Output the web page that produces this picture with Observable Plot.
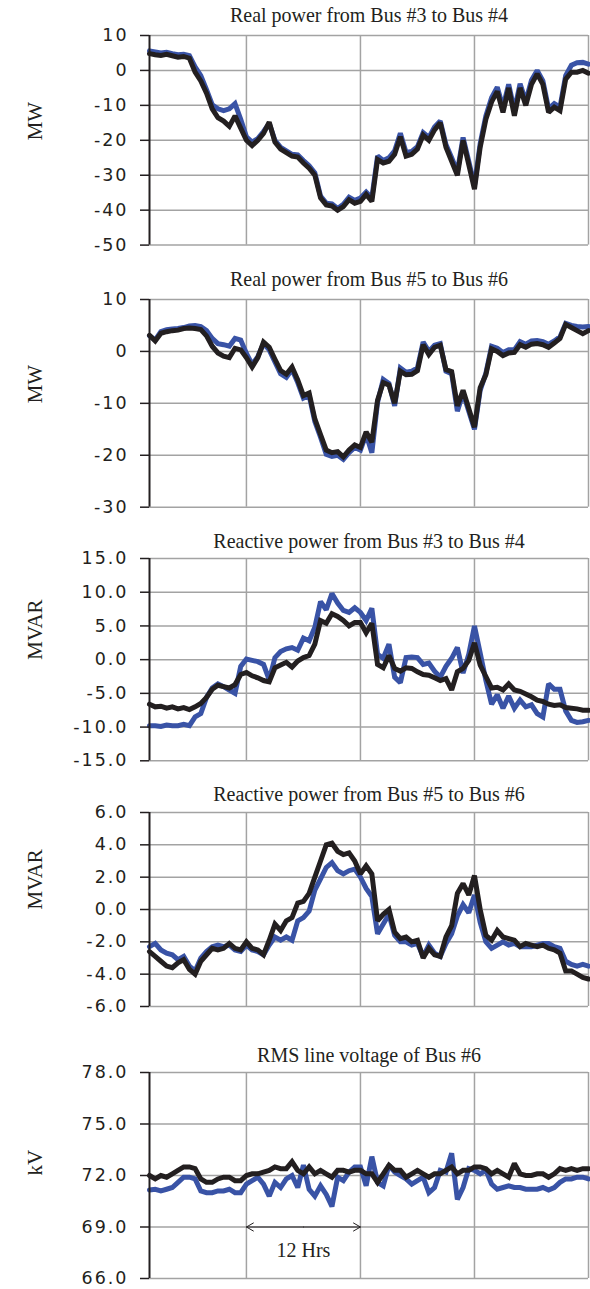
<!DOCTYPE html>
<html><head><meta charset="utf-8">
<script src="https://cdn.jsdelivr.net/npm/d3@7"></script>
<script src="https://cdn.jsdelivr.net/npm/@observablehq/plot@0.6"></script>
<style>
body{margin:0;background:#fff;}
#wrap{position:relative;width:590px;height:1289px;overflow:hidden;}
#wrap svg{position:absolute;left:0;}
g[aria-label="y-axis tick label"] text{font-family:"DejaVu Sans";letter-spacing:2px;}
</style></head><body><div id="wrap"></div>
<script>
// time axis (hours), sampled every 0.6 h
const hours = Array.from({length: 78}, (_, i) => +(1.8 + 0.6 * i).toFixed(1));
const gridHours = [12, 24, 36, 48];

const titles = [
  "Real power from Bus #3 to Bus #4",
  "Real power from Bus #5 to Bus #6",
  "Reactive power from Bus #3 to Bus #4",
  "Reactive power from Bus #5 to Bus #6",
  "RMS line voltage of Bus #6"
];
const yLabels = ["MW", "MW", "MVAR", "MVAR", "kV"];

const p1Ticks = [-50, -40, -30, -20, -10, 0, 10];
const p2Ticks = [-30, -20, -10, 0, 10];
const p3Ticks = [-15, -10, -5, 0, 5, 10, 15];
const p4Ticks = [-6, -4, -2, 0, 2, 4, 6];
const p5Ticks = [66, 69, 72, 75, 78];

const p1Black = [4.8,4.5,4.3,4.6,4.2,3.8,4.0,3.5,-0.5,-3.0,
 -6.5,-11,-13.5,-14.5,-16,-13,-16.5,-20,-21.5,-20,
 -18,-14.8,-20.5,-22.5,-23.5,-24.5,-24.8,-26.5,-28,-30,
 -36.5,-38.5,-38.8,-40,-39,-37,-38,-37.5,-35.5,-37.5,
 -25.5,-26.5,-26,-24,-19,-24.5,-24,-22.5,-18.5,-20,
 -17,-15,-22,-26,-30,-20,-27,-34,-22,-14,
 -9,-6,-12,-5,-13,-5,-10,-4,-1,-4,
 -12,-10.5,-11.5,-2.5,-0.5,-0.5,0,-0.8];
const p1Blue = [5.6,5.3,5.0,5.2,4.8,4.5,4.6,4.2,1.0,-1.5,
 -5.5,-9.8,-11,-11.5,-11,-9.5,-14,-19,-20.5,-19.5,
 -17.5,-15.2,-20,-22,-23,-24,-24.2,-25.8,-27.3,-29.3,
 -36,-38,-38.2,-39.5,-38.3,-36.3,-37.2,-36.5,-34.8,-36.5,
 -24.5,-25.8,-25,-23,-18,-23.5,-23.2,-21.8,-17.8,-19.2,
 -16.2,-14.5,-21.2,-25,-29,-19.2,-26,-33,-21,-13,
 -7.8,-4.8,-10.5,-4,-11.5,-3.8,-8.8,-2.8,0,-3,
 -11,-9.5,-10.5,-1.5,1.5,2.2,2.3,1.8];

const p2Black = [3.1,2.0,3.5,3.8,4.0,4.1,4.4,4.5,4.4,4.2,
 3.0,1.0,-0.3,-0.9,-1.2,0.6,0.3,-1.2,-3.0,-1.2,
 1.8,0.8,-1.5,-3.7,-4.4,-3.0,-5.5,-8.5,-8.0,-13,
 -16,-19,-19.5,-19.3,-20.3,-19,-18,-18.5,-15.5,-17.5,
 -9.4,-6,-6.5,-10,-3.8,-4.5,-4.4,-3.7,1.3,-0.6,
 0.8,1.2,-3.5,-3.9,-10.5,-7.5,-11,-14.6,-7.0,-4.5,
 0.5,0,-0.8,-0.3,-0.2,1.3,0.8,1.4,1.5,1.3,
 0.8,1.6,2.5,5.2,4.6,4.0,3.4,4.0];
const p2Blue = [3.0,2.2,3.8,4.2,4.3,4.4,4.6,4.9,5.0,4.8,
 4.0,2.5,1.5,1.3,1.0,2.5,2.2,-0.4,-2.5,-1.0,
 1.5,0.3,-2.0,-4.3,-5.0,-3.5,-6.0,-9.0,-8.5,-13.5,
 -16.5,-19.8,-20.2,-20,-20.8,-19.5,-18.5,-19,-16,-19.5,
 -9.8,-5.4,-6.2,-10.5,-3.2,-4.0,-3.8,-3.2,1.8,0,
 1.2,1.5,-3.8,-4.3,-11.5,-8,-11.5,-15,-7.5,-4.2,
 1.0,0.6,-0.2,0.3,0.3,1.9,1.4,2.0,2.1,1.9,
 1.4,2.0,2.8,5.4,5.0,4.8,4.7,4.8];

const p3Black = [-6.6,-7.0,-6.9,-7.2,-7.0,-7.3,-7.1,-7.4,-7.0,-6.5,
 -5.6,-4.4,-3.8,-4.0,-4.2,-3.7,-2.2,-1.9,-2.4,-2.7,
 -3.1,-3.3,-1.2,-0.8,-0.4,-1.1,-0.2,0.3,0.6,2.3,
 5.8,5.4,6.8,6.4,5.8,5.0,5.5,5.5,4.0,5.4,
 -0.7,-1.2,0.6,-1.3,-1.7,-1.2,-1.3,-1.8,-2.2,-2.3,
 -2.7,-3.1,-2.8,-4.5,-1.8,-1.3,-0.1,2.5,-0.8,-2.5,
 -4.2,-4.1,-4.5,-3.6,-4.5,-4.7,-5.1,-5.5,-6.0,-6.2,
 -6.6,-6.8,-6.7,-7.1,-7.2,-7.3,-7.5,-7.5];
const p3Blue = [-9.8,-9.8,-9.9,-9.7,-9.8,-9.8,-9.6,-9.8,-8.5,-8.0,
 -5.6,-4.2,-3.6,-4.0,-4.5,-5.0,-1.0,0.1,-0.1,-0.3,
 -0.7,-3.0,0.3,1.2,1.6,1.8,1.4,3.2,2.8,4.8,
 8.6,7.4,9.8,8.4,7.3,7.0,7.7,7.0,5.8,7.6,
 0.8,0.2,2.3,-2.6,-3.4,0.3,0.4,0.3,-0.7,-0.5,
 -1.7,-2.6,-1.0,0.2,1.8,-2.0,0.8,5.0,1.0,-3.1,
 -6.6,-5.2,-7.2,-5.4,-7.2,-6.0,-7.0,-6.7,-8.0,-8.5,
 -3.6,-4.4,-4.4,-7.6,-9.0,-9.3,-9.2,-9.0];

const p4Black = [-2.6,-2.9,-3.2,-3.5,-3.6,-3.3,-3.1,-3.7,-4.0,-3.2,
 -2.8,-2.4,-2.5,-2.4,-2.1,-2.4,-2.5,-2.0,-2.4,-2.5,
 -2.8,-1.9,-0.9,-1.3,-0.7,-0.5,0.4,0.5,1.0,2.0,
 3.0,4.0,4.1,3.6,3.4,3.5,3.0,2.2,2.7,2.2,
 -0.7,-0.3,0,-1.4,-1.8,-1.7,-2.0,-1.9,-3.0,-2.4,
 -2.8,-2.9,-1.7,-1.0,1.0,1.6,0.9,2.1,0,-1.6,
 -1.9,-1.3,-1.7,-1.8,-1.9,-2.3,-2.1,-2.2,-2.3,-2.2,
 -2.4,-2.5,-2.7,-3.8,-3.8,-4.0,-4.2,-4.3];
const p4Blue = [-2.3,-2.1,-2.5,-2.7,-2.8,-3.1,-2.9,-3.5,-3.8,-3.0,
 -2.6,-2.3,-2.2,-2.3,-2.2,-2.5,-2.6,-2.2,-2.5,-2.6,
 -2.8,-2.2,-1.7,-1.9,-1.7,-1.9,-0.7,-0.5,-0.1,1.2,
 1.9,2.6,2.9,2.4,2.2,2.4,2.5,2.0,1.3,0.8,
 -1.5,-0.9,-0.3,-1.6,-2.0,-2.0,-2.2,-2.1,-2.9,-2.2,
 -2.7,-2.9,-2.1,-1.5,-0.4,0.3,-0.2,0.9,-0.8,-2.0,
 -2.4,-2.2,-2.0,-2.2,-2.1,-2.3,-2.3,-2.3,-2.2,-2.1,
 -2.1,-2.3,-2.4,-3.2,-3.4,-3.5,-3.4,-3.5];

const p5Black = [72.0,71.8,72.0,71.9,72.1,72.3,72.5,72.5,72.4,71.8,
 71.6,71.6,71.8,71.9,71.9,71.7,71.7,72.0,72.1,72.1,
 72.2,72.3,72.5,72.4,72.4,72.8,72.3,72.1,72.5,72.1,
 72.3,72.1,71.9,72.3,72.3,72.2,72.3,72.3,72.1,72.1,
 71.6,72.1,72.6,72.3,72.3,71.9,72.1,72.3,72.1,71.9,
 72.1,72.1,72.3,72.5,72.1,72.3,72.3,72.5,72.5,72.4,
 72.1,72.3,72.1,71.9,72.7,72.1,72.0,72.0,72.1,72.1,
 71.9,72.1,72.4,72.3,72.4,72.3,72.4,72.4];
const p5Blue = [71.15,71.2,71.1,71.2,71.3,71.6,71.9,71.9,71.8,71.1,
 71.0,71.0,71.1,71.1,71.2,71.0,71.0,71.5,71.7,71.9,
 71.5,70.8,71.6,71.3,71.8,72.0,71.3,72.6,71.2,70.8,
 71.4,70.9,70.2,71.9,71.7,72.2,72.5,72.5,71.4,73.1,
 71.6,71.4,72.6,72.2,72.0,71.8,71.5,71.7,71.9,71.0,
 71.3,72.3,72.2,73.3,70.6,71.3,72.4,72.3,72.1,72.3,
 71.5,71.2,71.3,71.4,71.3,71.3,71.2,71.2,71.2,71.3,
 71.15,71.3,71.6,71.8,71.8,71.9,71.9,71.8];

// "12 Hrs" span annotation
const spanHours = [12, 24];
const spanLevel = 69;
const spanLabel = "12 Hrs";
const spanLabelLevel = 67.25;

const BLUE = "#3953a6";
const BLACK = "#231f20";
const GRID = "#a3a3a3";

const int = d => String(d);
const one = d => d.toFixed(1);

const panels = [
  {ticks: p1Ticks, fmt: int, blue: p1Blue, black: p1Black, top: 34.7, bottom: 244.3, tOff: 13},
  {ticks: p2Ticks, fmt: int, blue: p2Blue, black: p2Black, top: 299, bottom: 506.7, tOff: 13},
  {ticks: p3Ticks, fmt: one, blue: p3Blue, black: p3Black, top: 557.7, bottom: 760, tOff: 10.7},
  {ticks: p4Ticks, fmt: one, blue: p4Blue, black: p4Black, top: 812.3, bottom: 1006.3, tOff: 11.6},
  {ticks: p5Ticks, fmt: one, blue: p5Blue, black: p5Black, top: 1072.3, bottom: 1278.3, tOff: 10.6, span: true}
];

const wrap = document.getElementById("wrap");
const mt = 34, mb = 10;
panels.forEach((p, k) => {
  const blueRows = hours.map((h, i) => ({h, v: p.blue[i]}));
  const blackRows = hours.map((h, i) => ({h, v: p.black[i]}));
  const marks = [
    Plot.ruleX(gridHours, {stroke: GRID, strokeWidth: 1.5}),
    Plot.ruleY(p.ticks, {stroke: GRID, strokeWidth: 1.5}),
    Plot.line(blueRows, {x: "h", y: "v", stroke: BLUE, strokeWidth: 5, strokeLinejoin: "miter", strokeMiterlimit: 2}),
    Plot.line(blackRows, {x: "h", y: "v", stroke: BLACK, strokeWidth: 5, strokeLinejoin: "miter", strokeMiterlimit: 2}),
    Plot.ruleX([hours[0]], {stroke: BLACK, strokeWidth: 2}),
    Plot.axisY({ticks: p.ticks, tickFormat: p.fmt, tickSize: 9, tickPadding: 12, fontSize: 17.5, color: BLACK, strokeWidth: 1.5, label: null}),
    Plot.text([titles[k]], {frameAnchor: "top", text: d => d, lineAnchor: "bottom", dy: -p.tOff, fontSize: 20, fill: BLACK}),
    Plot.text([yLabels[k]], {frameAnchor: "left", text: d => d, rotate: -90, dx: -114, fontSize: 21, fill: BLACK})
  ];
  if (p.span) {
    const mid = (spanHours[0] + spanHours[1]) / 2;
    marks.push(
      Plot.arrow(spanHours, {x1: () => mid, x2: d => d, y1: () => spanLevel, y2: () => spanLevel, bend: 0, headLength: 12, stroke: BLACK, strokeWidth: 1}),
      Plot.text([spanLabel], {x: () => mid, y: () => spanLabelLevel, text: d => d, lineAnchor: "bottom", fontSize: 20, fill: BLACK})
    );
  }
  const svg = Plot.plot({
    width: 590,
    height: (p.bottom - p.top) + mt + mb,
    marginLeft: 149, marginRight: 2, marginTop: mt, marginBottom: mb,
    x: {domain: [hours[0], 48], axis: null},
    y: {domain: [p.ticks[0], p.ticks[p.ticks.length - 1]], axis: null},
    style: {fontFamily: "Liberation Serif", background: "transparent", overflow: "visible"},
    marks
  });
  svg.style.top = (p.top - mt) + "px";
  wrap.appendChild(svg);
});
</script></body></html>
